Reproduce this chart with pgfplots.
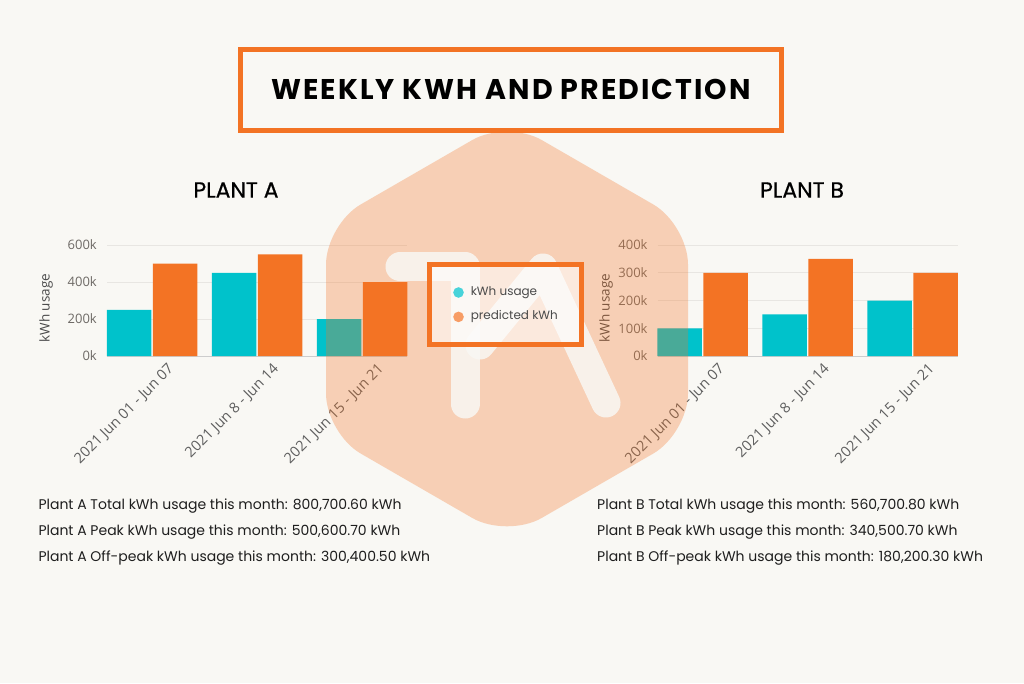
\documentclass[border=0pt]{standalone}
\usepackage{fontspec}
\setmainfont{Poppins}
\newfontfamily\tickfont{Open Sans}
\newfontfamily\titlefont{Poppins}[LetterSpace=7]
\newfontfamily\medfont{Poppins}[FakeBold=0.6]
\usepackage{pgfplots}
\pgfplotsset{compat=1.18}

\definecolor{bg}{HTML}{F9F8F4}
\definecolor{tealc}{HTML}{00C2CB}
\definecolor{orangec}{HTML}{F37324}
\definecolor{gridc}{HTML}{E8E6E2}
\definecolor{basec}{HTML}{CDCDCD}
\definecolor{tickc}{HTML}{6E6A66}
\definecolor{xlabc}{HTML}{5E5E5E}
\definecolor{legc}{HTML}{4A4A4A}
\definecolor{txtc}{HTML}{1E1E1E}

\pgfplotsset{
  plantbar/.style={
    scale only axis, width=300pt, height=111pt, anchor=south west,
    ybar=1.5pt, bar width=44.5pt,
    xmin=-0.4286, xmax=2.4286, ymin=0,
    xtick={0,1,2},
    xticklabels={2021 Jun 01 - Jun 07, 2021 Jun 8 - Jun 14, 2021 Jun 15 - Jun 21},
    scaled y ticks=false,
    axis line style={draw=none}, major tick length=0pt,
    ymajorgrids, grid style={gridc, line width=0.8pt},
    tick label style={font=\tickfont\fontsize{13}{15}\selectfont, text=tickc},
    xticklabel style={rotate=45, anchor=north east, inner sep=0pt, xshift=6pt, yshift=-15pt,
      text=xlabc, font=\tickfont\fontsize{14.5}{16}\selectfont},
    yticklabel style={anchor=east, inner sep=0pt, xshift=-10pt},
    ylabel={kWh usage},
    clip=false,
  },
  ylab/.style={every axis y label/.style={at={(axis description cs:#1,0.43)},
    rotate=90, anchor=center, font=\tickfont\fontsize{13.5}{15}\selectfont, text=legc}},
}

\begin{document}
\begin{tikzpicture}
\fill[bg] (0,0) rectangle (1024pt,683pt);
\path[use as bounding box] (0,0) rectangle (1024pt,683pt);

% Plant A
\begin{axis}[plantbar, ylab=-0.203, at={(107pt,327pt)}, ymax=600000,
  ytick={0,200000,400000,600000}, yticklabels={0k,200k,400k,600k}]
\draw[basec, line width=0.8pt] (rel axis cs:0,0) -- (rel axis cs:1,0);
\addplot[fill=tealc, draw=none] coordinates {(0,250000) (1,450000) (2,200000)};
\addplot[fill=orangec, draw=none] coordinates {(0,500000) (1,550000) (2,400000)};
\end{axis}

% Plant B
\begin{axis}[plantbar, ylab=-0.172, at={(657.7pt,327pt)}, ymax=400000,
  ytick={0,100000,200000,300000,400000}, yticklabels={0k,100k,200k,300k,400k}]
\draw[basec, line width=0.8pt] (rel axis cs:0,0) -- (rel axis cs:1,0);
\addplot[fill=tealc, draw=none] coordinates {(0,100000) (1,150000) (2,200000)};
\addplot[fill=orangec, draw=none] coordinates {(0,300000) (1,350000) (2,300000)};
\end{axis}

% watermark
\fill[orangec, fill opacity=0.3, rounded corners=40pt]
  (326pt,354pt) -- (326pt,458.5pt) -- (507pt,563pt) -- (688pt,458.5pt)
  -- (688pt,249.5pt) -- (507pt,145pt) -- (326pt,249.5pt) -- cycle;
\draw[bg, opacity=0.85, line width=29pt, line cap=round, line join=round]
  (400pt,416pt) -- (465pt,416pt) -- (465pt,279pt);
\draw[bg, opacity=0.85, line width=29pt, line cap=round, line join=round]
  (480pt,338pt) -- (543pt,415pt) -- (606pt,280pt);

% legend
\begin{axis}[at={(0pt,0pt)}, anchor=south west, hide axis, scale only axis,
  width=1024pt, height=683pt, xmin=0, xmax=1024, ymin=0, ymax=683,
  legend style={at={(axis cs:427.2,421)}, anchor=north west,
    draw=orangec, line width=5pt, fill=white, fill opacity=0.55, text opacity=1,
    inner xsep=23.5pt, inner ysep=22pt, row sep=12.4pt, column sep=7pt,
    font=\fontsize{12}{14}\selectfont, text=legc,
    nodes={inner sep=0pt, text height=9pt, text depth=3pt}},
  legend cell align=left]
\addlegendimage{legend image code/.code={\path[fill=tealc!72!white, fill opacity=1, draw=none, line width=0pt] (0pt,0pt) circle (5.3pt);}}
\addlegendentry{kWh usage}
\addlegendimage{legend image code/.code={\path[fill=orangec!70!white, fill opacity=1, draw=none, line width=0pt] (0pt,0pt) circle (5.3pt);}}
\addlegendentry{predicted kWh}
\end{axis}

% title
\draw[orangec, line width=5pt, fill=bg] (240.5pt,633.5pt) rectangle (781.5pt,552pt);
\node[text=black, inner sep=0pt] at (511pt,594pt)
  {\titlefont\fontsize{28.5}{32}\selectfont\bfseries WEEKLY KWH AND PREDICTION};

\node[text=black] at (236pt,493pt) {\medfont\fontsize{22}{26}\selectfont PLANT A};
\node[text=black] at (802pt,493pt) {\medfont\fontsize{22}{26}\selectfont PLANT B};

% summary text
\begin{scope}[every node/.style={anchor=base west, inner sep=0pt, text=txtc,
  font=\fontsize{14}{17}\selectfont}]
\node at (38.3pt,173.7pt) {Plant A Total kWh usage this month: 800,700.60 kWh};
\node at (38.3pt,148pt) {Plant A Peak kWh usage this month: 500,600.70 kWh};
\node at (38.3pt,121.3pt) {Plant A Off-peak kWh usage this month: 300,400.50 kWh};
\node at (597pt,173.7pt) {Plant B Total kWh usage this month: 560,700.80 kWh};
\node at (597pt,148pt) {Plant B Peak kWh usage this month: 340,500.70 kWh};
\node at (597pt,121.3pt) {Plant B Off-peak kWh usage this month: 180,200.30 kWh};
\end{scope}
\end{tikzpicture}
\end{document}
